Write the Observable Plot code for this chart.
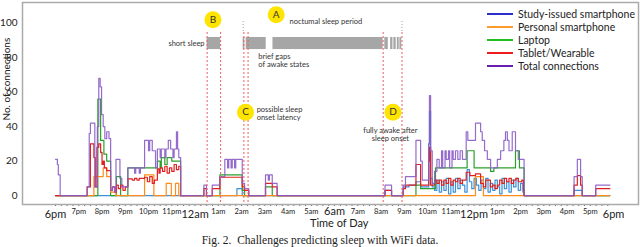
<!DOCTYPE html>
<html><head><meta charset="utf-8">
<script src="https://cdn.jsdelivr.net/npm/d3@7"></script>
<script src="https://cdn.jsdelivr.net/npm/@observablehq/plot@0.6"></script>
<style>
body{margin:0;background:#fff;font-family:Lato,sans-serif;}
#wrap{position:relative;width:640px;height:247px;overflow:hidden;}
#legend{position:absolute;left:487px;top:8px;font-size:10.5px;color:#222;font-family:Lato,sans-serif;}
.row{height:12.9px;display:flex;align-items:center;white-space:nowrap;}
.sw{width:26px;height:2px;margin-right:5px;}
#caption{position:absolute;left:0;top:233px;width:640px;text-align:center;font-family:"Liberation Serif",serif;font-size:11.5px;color:#222;line-height:14px;}
</style></head><body>
<div id="wrap"><div id="chart"></div><div id="legend"></div><div id="caption">Fig. 2.&nbsp; Challenges predicting sleep with WiFi data.</div></div>
<script>
// ---- labels ----
const hourLabels = ["6pm","7pm","8pm","9pm","10pm","11pm","12am","1am","2am","3am","4am","5am","6am","7am","8am","9am","10am","11am","12pm","1pm","2pm","3pm","4pm","5pm","6pm"];
const majorHours = [0,6,12,18,24];
const yTicks = [0,20,40,60,80,100];
const seriesNames = ["Study-issued smartphone","Personal smartphone","Laptop","Tablet/Wearable","Total connections"];
const legendColors = ["#2a2fd0","#ff9a2e","#1fbf1f","#ee1c1c","#6a1fb0"];
const lineColors = ["#3d8fd8","#ff8c1a","#2ca02c","#e02020","#8a5cc6"];

// ---- series: [hours after 6pm, connections] (step changes) ----
const studyPhone = [[0,0],[7.8,4],[8.03,0],[14.17,3],[14.45,0],[14.95,5],[15.2,6],[15.5,8],[15.7,5],[16.05,30],[16.08,49],[16.13,10],[16.2,5],[16.3,3],[16.4,9],[16.5,2],[16.6,8],[16.7,3],[16.8,10],[16.9,1],[17.0,8],[17.1,2],[17.2,10],[17.3,4],[17.4,9],[17.5,6],[17.6,2],[17.7,15],[17.8,8],[17.9,4],[18.0,10],[18.1,6],[18.2,3],[18.3,9],[18.4,4],[18.5,10],[18.6,2],[18.7,7],[18.8,3],[18.9,9],[19.0,5],[19.1,1],[19.2,10],[19.3,4],[19.4,8],[19.5,2],[19.6,9],[19.7,5],[19.8,10],[19.9,3],[20.0,7],[20.1,2],[20.15,0],[22.3,3],[22.65,0],[23.84,0]];
const personalPhone = [[0,0],[1.65,11],[2.05,16],[2.2,11],[2.37,2],[2.6,0],[3.83,12],[4.23,0],[4.76,7],[4.98,0],[5.16,7],[5.3,0],[18.06,11],[18.4,0],[23.84,0]];
const laptop = [[0,0],[1.82,56],[1.94,32],[2.08,24],[2.2,20],[2.37,0],[2.62,11],[2.8,0],[3.11,16],[3.83,16],[4.38,20],[4.5,16],[4.55,22],[4.7,18],[4.8,22],[5.0,20],[5.38,0],[7.07,12],[8.03,3],[8.13,0],[9.03,5],[9.32,0],[15.5,6],[15.7,4],[16.34,16],[17.7,26],[18.0,16],[18.71,14],[18.85,16],[19.78,26],[19.95,16],[20.15,0],[23.84,0]];
const tablet = [[0,0],[1.36,5],[1.5,30],[1.65,22],[1.71,5],[1.78,28],[1.86,30],[1.94,25],[2.0,18],[2.05,20],[2.1,16],[2.2,14.5],[2.37,3],[2.45,5],[2.55,2],[2.62,6],[2.7,4],[2.8,6],[2.9,3],[3.0,5],[3.11,9.7],[3.3,9],[3.4,10],[3.5,9],[3.6,10],[3.83,10.6],[3.95,8],[4.05,11],[4.16,7],[4.25,9],[4.38,15.5],[4.45,13],[4.5,16],[4.6,14],[4.7,17],[4.8,13],[4.9,16],[5.0,14],[5.1,18],[5.2,15],[5.3,17],[5.38,0],[6.38,4],[6.49,0],[6.74,4],[7.07,10.6],[8.03,5],[8.13,3],[8.31,0],[9.03,7],[9.32,5],[9.53,0],[14.17,3],[14.45,0],[14.95,4],[15.05,6],[15.5,18],[15.7,6],[16.05,20],[16.08,28],[16.13,6],[16.3,9],[16.4,7],[16.5,9],[16.6,6],[16.7,9],[16.8,7],[16.9,10],[17.0,6],[17.1,9],[17.2,8],[17.3,10],[17.4,7],[17.5,9],[17.66,13.5],[17.82,11.6],[18.06,12.6],[18.28,7],[18.4,5],[18.5,9],[18.7,5],[18.8,6],[18.9,4],[19.0,6],[19.1,9],[19.2,7],[19.3,10],[19.4,8],[19.5,10],[19.6,7],[19.7,9],[19.8,10],[19.9,8],[20.05,9],[20.12,3],[20.15,0],[22.3,6],[22.44,11.6],[22.58,6],[22.65,0],[23.23,4],[23.84,4]];
const total = [[0,21],[0.08,18],[0.12,12],[0.2,0],[1.36,5],[1.45,36],[1.5,42],[1.69,5],[1.8,40],[1.86,68],[1.92,63],[1.98,47],[2.05,40],[2.12,33],[2.2,37],[2.3,33],[2.37,3],[2.45,5],[2.55,2],[2.6,21],[2.77,10],[2.85,5],[3.11,16],[3.4,13],[3.45,16],[3.6,13],[3.65,16],[3.83,32],[4.0,26],[4.05,32],[4.16,26],[4.3,16],[4.38,27],[4.5,22],[4.55,27],[4.7,22],[4.75,27],[4.85,32],[4.95,27],[5.05,22],[5.1,27],[5.2,37],[5.25,27],[5.3,22],[5.38,0],[6.38,6],[6.49,0],[6.74,6],[7.07,11],[7.28,21],[7.4,16],[7.45,21],[7.55,16],[7.6,21],[7.7,16],[7.75,21],[8.03,7],[8.13,4],[8.31,0],[9.03,12],[9.15,9],[9.2,12],[9.32,7],[9.53,0],[14.17,6],[14.45,0],[14.95,6],[15.05,11],[15.5,32],[15.7,20],[15.77,9],[16.05,30],[16.08,58],[16.13,26],[16.2,7],[16.3,14],[16.4,21],[16.5,16],[16.6,26],[16.65,16],[16.75,26],[16.8,21],[16.9,26],[16.95,16],[17.05,26],[17.1,21],[17.2,26],[17.3,21],[17.4,26],[17.5,21],[17.66,37],[17.73,32],[18.06,42],[18.28,37],[18.35,32],[18.45,26],[18.57,21],[18.71,16],[19.0,21],[19.14,26],[19.28,32],[19.35,37],[19.43,32],[19.5,26],[19.64,37],[19.78,26],[19.9,21],[20.15,0],[22.3,11],[22.44,21],[22.58,11],[22.65,0],[23.23,6],[23.84,6]];

// ---- sleep annotation data ----
const shortSleep = [[6.52,7.10]];
const nocturnalSleep = [[8.07,8.14],[8.20,9.06],[9.35,14.09],[14.16,14.31],[14.41,14.51],[14.55,14.65],[14.70,14.78],[14.81,14.89]];
const eventTimes = [6.52,7.10,8.10,8.28,14.09,14.90];
const periodBounds = [8.07,14.90];
const markerLabels = ["A","B","C","D"];
const markerTimes = [9.49,6.77,8.17,14.51];
const markerLevels = [104.9,102,48.3,48.3];
const noteTexts = ["short sleep","noctumal sleep period","brief gaps\nof awake states","possible sleep\nonset latency","fully awake after\nsleep onset"];
const noteTimes = [6.41,10.06,8.72,8.65,14.4];
const noteLevels = [88.5,101.2,78.3,47.7,35.7];
const noteAnchors = ["end","start","start","start","middle"];

const rows = a => a.map(([t,v]) => ({t,v}));
const series = [studyPhone, laptop, personalPhone, tablet, total];
const seriesColor = [lineColors[0], lineColors[2], lineColors[1], lineColors[3], lineColors[4]];

const bars = [...shortSleep, ...nocturnalSleep].map(([s,e]) => ({s,e}));
const markers = markerLabels.map((l,i) => ({l, t: markerTimes[i], v: markerLevels[i]}));
const notes = noteTexts.map((s,i) => ({s, t: noteTimes[i], v: noteLevels[i], a: noteAnchors[i]}));
const minorHours = d3.range(0,25).filter(h => !majorHours.includes(h));
const quarters = d3.range(0, 23.8, 0.25);

const marks = [
  Plot.rect(bars, {x1:"s", x2:"e", y1:84.7, y2:91.7, fill:"#a6a6a6"}),
  Plot.ruleX(periodBounds, {x: d=>d, y1:95.2, y2:101.8, stroke:"#999", strokeWidth:1, strokeDasharray:"1,2"}),
  ...series.map((s,i) => Plot.line(rows(s), {x:"t", y:"v", curve:"step-after", stroke: seriesColor[i], strokeWidth:1.2, strokeOpacity: i===4?0.9:1})),
  Plot.ruleX(eventTimes, {x: d=>d, y1:94.6, y2:-5.2, stroke:"#f25a5a", strokeWidth:1, strokeDasharray:"2,2"}),
  Plot.dot(markers, {x:"t", y:"v", r:8.5, fill:"#ffe400", stroke:"none"}),
  Plot.text(markers, {x:"t", y:"v", text:"l", fontSize:10, fill:"#333"}),
  ...["end","start","middle"].map(anchor => Plot.text(notes.filter(n => n.a===anchor), {x:"t", y:"v", text:"s", textAnchor:anchor, fontSize:7.5, lineHeight:1.1, fill:"#333"})),
  Plot.axisY({ticks: yTicks, tickSize:0, tickPadding:5, fontSize:10, label:null, fill:"#222"}),
  Plot.text(["No. of connections"], {y:[43.5], frameAnchor:"left", rotate:-90, dx:-15.5, fontSize:10, fill:"#222"}),
  Plot.axisX({ticks: quarters, tickSize:2, tickFormat: () => "", label:null, stroke:"#666"}),
  Plot.axisX({ticks: majorHours.filter(h => h !== 12), tickSize:0, tickPadding:6, tickFormat: d => hourLabels[d], fontSize:11, label:null, fill:"#222"}),
  Plot.axisX({ticks: [12], tickSize:0, tickPadding:2.5, tickFormat: d => hourLabels[d], fontSize:11, label:null, fill:"#222"}),
  Plot.axisX({ticks: minorHours, tickSize:0, tickPadding:4, tickFormat: d => hourLabels[d], fontSize:7.5, label:null, fill:"#222"}),
  Plot.text(["Time of Day"], {x:[12.2], frameAnchor:"bottom", dy:22.5, fontSize:11, fill:"#222"}),
  Plot.frame({stroke:"#aaa", strokeWidth:1.5})
];

const chart = Plot.plot({
  width: 640, height: 231,
  marginTop: 2, marginBottom: 27, marginLeft: 22, marginRight: 2,
  style: {fontFamily: "Lato, sans-serif", background: "#fff"},
  x: {domain: [-1.42, 25.07], axis: null},
  y: {domain: [-5.2, 112], axis: null},
  marks
});
document.getElementById("chart").appendChild(chart);

const legend = document.getElementById("legend");
seriesNames.forEach((n,i) => {
  const r = document.createElement("div"); r.className = "row";
  const sw = document.createElement("span"); sw.className = "sw"; sw.style.background = legendColors[i];
  const tx = document.createElement("span"); tx.textContent = n;
  r.appendChild(sw); r.appendChild(tx); legend.appendChild(r);
});
</script>
</body></html>
